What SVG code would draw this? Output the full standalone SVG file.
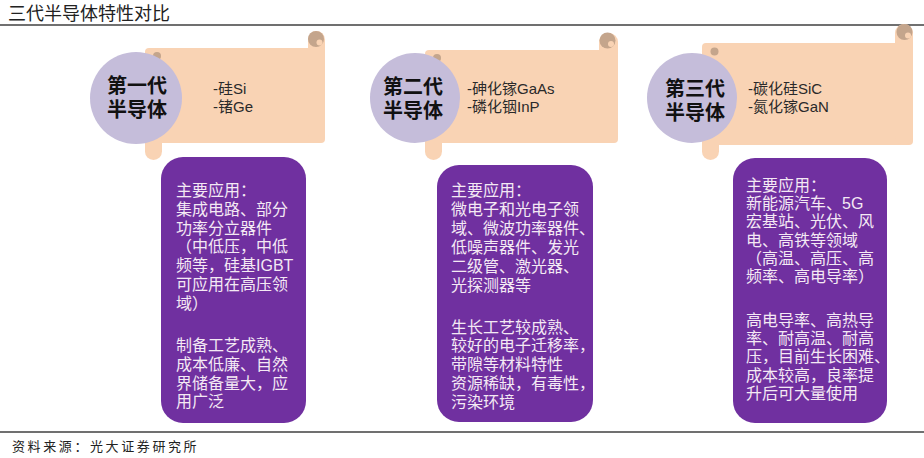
<svg xmlns="http://www.w3.org/2000/svg" width="924" height="458" viewBox="0 0 924 458">
<style>
  .paper{fill:#F9D3B4}
  .curl{fill:#C4A58C}
  .disc{fill:#C5BDDA}
  .card{fill:#7030A0}
  .head{font-family:"Liberation Sans","Noto Sans CJK SC",sans-serif;font-size:20px;font-weight:bold;fill:#111;text-anchor:middle}
  .side{font-family:"Liberation Sans","Noto Sans CJK SC",sans-serif;font-size:15px;fill:#2a2a2a}
  .body{font-family:"Liberation Sans","Noto Sans CJK SC",sans-serif;font-size:16px;fill:#F4E9F4}
  .rule{stroke:#404040;stroke-width:1.5}
</style>
<rect width="924" height="458" fill="#ffffff"/>
<g id="title">
  <text x="8" y="19.5" font-family="'Noto Sans CJK SC',sans-serif" font-size="18" fill="#222">三代半导体特性对比</text>
  <line class="rule" x1="0" y1="25" x2="924" y2="25"/>
</g>

<g id="gen1">
  <rect class="paper" x="145" y="48" width="180" height="95" rx="4"/>
  <rect class="paper" x="308" y="31" width="17" height="112" rx="8.5"/>
  <rect class="paper" x="145" y="48" width="17" height="112" rx="8.5"/>
  <circle class="curl" cx="316" cy="39" r="8"/>
  <circle class="paper" cx="319.5" cy="42.5" r="3"/>
  <circle class="curl" cx="157" cy="56" r="4"/>
  <circle class="disc" cx="136" cy="98" r="46"/>
  <text class="head"><tspan x="137" y="92.5">第一代</tspan><tspan x="137" y="116.5">半导体</tspan></text>
  <text class="side"><tspan x="213" y="94">-硅Si</tspan><tspan x="213" y="112">-锗Ge</tspan></text>
</g>

<g id="gen2">
  <rect class="paper" x="425" y="50" width="193" height="93" rx="4"/>
  <rect class="paper" x="599" y="33" width="19" height="110" rx="9"/>
  <rect class="paper" x="425" y="50" width="17" height="110" rx="8.5"/>
  <circle class="curl" cx="607.5" cy="40.5" r="8"/>
  <circle class="paper" cx="611" cy="44" r="3"/>
  <circle class="curl" cx="437" cy="58" r="4"/>
  <circle class="disc" cx="415" cy="98" r="45"/>
  <text class="head"><tspan x="413" y="94">第二代</tspan><tspan x="413" y="118">半导体</tspan></text>
  <text class="side"><tspan x="467" y="93.5">-砷化镓GaAs</tspan><tspan x="467" y="112">-磷化铟InP</tspan></text>
</g>

<g id="gen3">
  <rect class="paper" x="702" y="43" width="211" height="102" rx="4"/>
  <rect class="paper" x="895" y="24" width="18" height="121" rx="9"/>
  <rect class="paper" x="702" y="43" width="17" height="117" rx="8.5"/>
  <circle class="curl" cx="904.5" cy="32" r="8"/>
  <circle class="paper" cx="908" cy="35.5" r="3"/>
  <circle class="curl" cx="714.5" cy="51.5" r="4"/>
  <circle class="disc" cx="692" cy="98" r="45"/>
  <text class="head"><tspan x="695" y="95.5">第三代</tspan><tspan x="695" y="119.5">半导体</tspan></text>
  <text class="side"><tspan x="748" y="93.5">-碳化硅SiC</tspan><tspan x="748" y="111.5">-氮化镓GaN</tspan></text>
</g>

<g id="card1">
  <rect class="card" x="161" y="157" width="145" height="266" rx="22"/>
  <text class="body" x="176">
    <tspan x="176" y="196">主要应用：</tspan>
    <tspan x="176" y="214.8">集成电路、部分</tspan>
    <tspan x="176" y="233.6">功率分立器件</tspan>
    <tspan x="176" y="252.4">（中低压，中低</tspan>
    <tspan x="176" y="271.2">频等，硅基IGBT</tspan>
    <tspan x="176" y="290">可应用在高压领</tspan>
    <tspan x="176" y="308.8">域）</tspan>
    <tspan x="176" y="351">制备工艺成熟、</tspan>
    <tspan x="176" y="369.8">成本低廉、自然</tspan>
    <tspan x="176" y="388.6">界储备量大，应</tspan>
    <tspan x="176" y="407.4">用广泛</tspan>
  </text>
</g>

<g id="card2">
  <rect class="card" x="437" y="165" width="156" height="257" rx="22"/>
  <text class="body" x="451">
    <tspan x="451" y="196">主要应用：</tspan>
    <tspan x="451" y="214.9">微电子和光电子领</tspan>
    <tspan x="451" y="233.8">域、微波功率器件、</tspan>
    <tspan x="451" y="252.7">低噪声器件、发光</tspan>
    <tspan x="451" y="271.6">二级管、激光器、</tspan>
    <tspan x="451" y="290.5">光探测器等</tspan>
    <tspan x="451" y="332.5">生长工艺较成熟、</tspan>
    <tspan x="451" y="351.4">较好的电子迁移率，</tspan>
    <tspan x="451" y="370.3">带隙等材料特性</tspan>
    <tspan x="451" y="389.2">资源稀缺，有毒性，</tspan>
    <tspan x="451" y="408.1">污染环境</tspan>
  </text>
</g>

<g id="card3">
  <rect class="card" x="733" y="158" width="154" height="265" rx="22"/>
  <text class="body" x="746">
    <tspan x="746" y="190.7">主要应用：</tspan>
    <tspan x="746" y="209">新能源汽车、5G</tspan>
    <tspan x="746" y="227.3">宏基站、光伏、风</tspan>
    <tspan x="746" y="245.7">电、高铁等领域</tspan>
    <tspan x="746" y="264">（高温、高压、高</tspan>
    <tspan x="746" y="282.3">频率、高电导率）</tspan>
    <tspan x="746" y="325.7">高电导率、高热导</tspan>
    <tspan x="746" y="344">率、耐高温、耐高</tspan>
    <tspan x="746" y="362.3">压，目前生长困难、</tspan>
    <tspan x="746" y="380.7">成本较高，良率提</tspan>
    <tspan x="746" y="399">升后可大量使用</tspan>
  </text>
</g>

<g id="connectors"/>

<g id="source">
  <line class="rule" x1="0" y1="432" x2="924" y2="432"/>
  <text x="12" y="451" font-family="'Noto Sans CJK SC',sans-serif" font-size="13" letter-spacing="2.6" fill="#222">资料来源：光大证券研究所</text>
</g>
</svg>
